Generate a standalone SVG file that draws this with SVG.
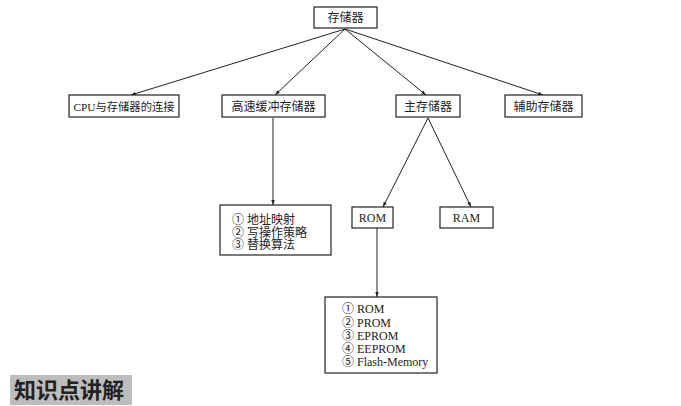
<svg xmlns="http://www.w3.org/2000/svg" width="681" height="406" viewBox="0 0 681 406">
<style>
.box{fill:#fff;stroke:#222;stroke-width:1.2}
.t{font-family:"Liberation Serif","Noto Sans CJK SC",serif;font-size:12px;fill:#222}
.c{text-anchor:middle}
.ln{stroke:#222;stroke-width:1;fill:none}
</style>
<defs>
<marker id="ah" viewBox="0 0 10 10" refX="10" refY="5" markerWidth="5" markerHeight="5" orient="auto" markerUnits="userSpaceOnUse">
<path d="M0,1.5 L10,5 L0,8.5 z" fill="#222"/>
</marker>
</defs>
<rect width="681" height="406" fill="#fff"/>
<g id="connectors">
<line class="ln" x1="345" y1="29" x2="131" y2="95" marker-end="url(#ah)"/>
<line class="ln" x1="345" y1="29" x2="275" y2="95" marker-end="url(#ah)"/>
<line class="ln" x1="345" y1="29" x2="426" y2="95" marker-end="url(#ah)"/>
<line class="ln" x1="345" y1="29" x2="543" y2="95" marker-end="url(#ah)"/>
<line class="ln" x1="273" y1="118" x2="273" y2="205" marker-end="url(#ah)"/>
<line class="ln" x1="428" y1="118" x2="383" y2="207" marker-end="url(#ah)"/>
<line class="ln" x1="428" y1="118" x2="471" y2="207" marker-end="url(#ah)"/>
<line class="ln" x1="377" y1="228" x2="377" y2="297" marker-end="url(#ah)"/>
</g>
<g id="root"><rect class="box" x="314" y="7" width="63" height="21"/><text class="t c" x="345.5" y="22">存储器</text></g>
<g id="cpu"><rect class="box" x="69" y="95" width="110" height="22"/><text class="t c" x="124" y="110.5" style="font-size:11.3px">CPU与存储器的连接</text></g>
<g id="cache"><rect class="box" x="222" y="95" width="103" height="22"/><text class="t c" x="273.5" y="110.5">高速缓冲存储器</text></g>
<g id="main"><rect class="box" x="396" y="95" width="64" height="22"/><text class="t c" x="428" y="110.5">主存储器</text></g>
<g id="aux"><rect class="box" x="505" y="95" width="77" height="22"/><text class="t c" x="543.5" y="110.5">辅助存储器</text></g>
<g id="cachelist"><rect class="box" x="220" y="205" width="111" height="50"/>
<text class="t" x="232" y="224">① 地址映射</text>
<text class="t" x="232" y="236.5">② 写操作策略</text>
<text class="t" x="232" y="249">③ 替换算法</text></g>
<g id="rom"><rect class="box" x="352" y="207" width="41" height="21"/><text class="t c" x="372.5" y="222">ROM</text></g>
<g id="ram"><rect class="box" x="440" y="207" width="53" height="21"/><text class="t c" x="466.5" y="222">RAM</text></g>
<g id="romlist"><rect class="box" x="325" y="297" width="112" height="76"/>
<text class="t" x="342" y="313">① ROM</text>
<text class="t" x="342" y="326.5">② PROM</text>
<text class="t" x="342" y="339.5">③ EPROM</text>
<text class="t" x="342" y="352.5">④ EEPROM</text>
<text class="t" x="342" y="365.5">⑤ Flash-Memory</text></g>
<g id="title"><rect x="10" y="375" width="122" height="30" fill="#bdbdbd"/>
<text x="14" y="398" font-family="Noto Sans CJK SC,sans-serif" font-size="22" font-weight="bold" fill="#222">知识点讲解</text></g>
</svg>
